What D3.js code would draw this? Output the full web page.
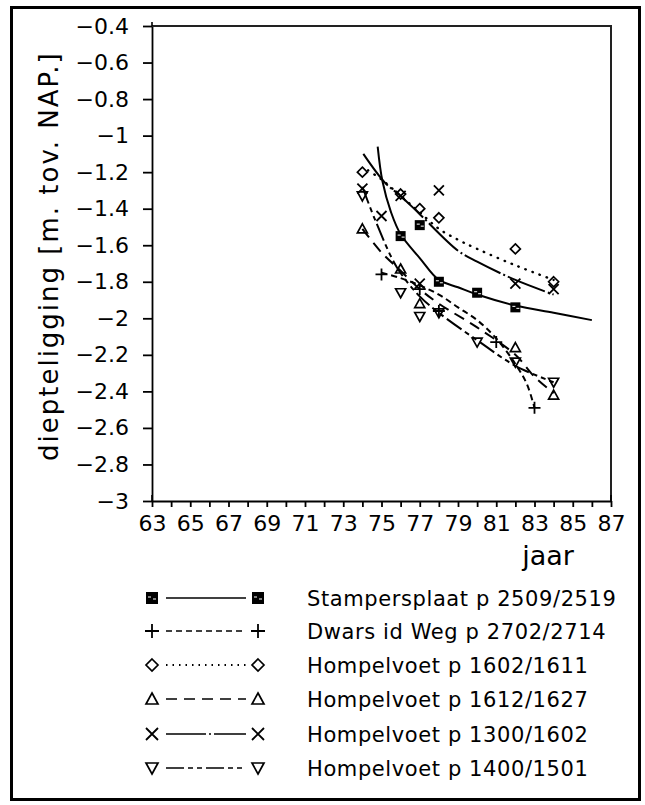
<!DOCTYPE html>
<html><head><meta charset="utf-8">
<script src="https://cdn.jsdelivr.net/npm/d3@7"></script>
<style>body{margin:0;background:#fff}svg{display:block}</style>
</head><body><svg id="c" width="645" height="805"></svg>
<script>
// ---------------- data ----------------
const years = d3.range(63, 88);
const yTickValues = [-0.4,-0.6,-0.8,-1,-1.2,-1.4,-1.6,-1.8,-2,-2.2,-2.4,-2.6,-2.8,-3];
const yTickLabels = ["−0.4","−0.6","−0.8","−1","−1.2","−1.4","−1.6","−1.8","−2","−2.2","−2.4","−2.6","−2.8","−3"];
const seriesNames = ["Stampersplaat p 2509/2519","Dwars id Weg p 2702/2714","Hompelvoet p 1602/1611",
                     "Hompelvoet p 1612/1627","Hompelvoet p 1300/1602","Hompelvoet p 1400/1501"];
const seriesSymbols = ["square","plus","diamond","triangle","cross","triangleDown"];

// measured points
const stampersPoints = [[76,-1.55],[77,-1.49],[78,-1.80],[80,-1.86],[82,-1.94]];
const dwarsPoints    = [[75,-1.76],[77,-1.84],[78,-1.96],[81,-2.13],[83,-2.49]];
const hv1602Points   = [[74,-1.20],[76,-1.32],[77,-1.40],[78,-1.45],[82,-1.62],[84,-1.80]];
const hv1612Points   = [[74,-1.51],[76,-1.73],[77,-1.92],[82,-2.16],[84,-2.42]];
const hv1300Points   = [[74,-1.29],[75,-1.44],[76,-1.33],[78,-1.30],[77,-1.81],[82,-1.81],[84,-1.84]];
const hv1400Points   = [[74,-1.33],[76,-1.86],[77,-1.99],[78,-1.97],[80,-2.13],[82,-2.24],[84,-2.35]];

// fitted curves
const stampersCurve = [[74.8,-1.06],[75.05,-1.25],[75.5,-1.42],[76,-1.54],[77,-1.67],[78,-1.79],[79,-1.83],[80,-1.87],[82,-1.93],[84,-1.97],[86,-2.01]];
const dwarsCurve    = [[75,-1.75],[76,-1.78],[77,-1.82],[78,-1.87],[79,-1.94],[80,-2.01],[81,-2.11],[82,-2.25],[82.6,-2.36],[83,-2.49]];
const hv1602Curve   = [[74.3,-1.19],[75,-1.24],[76,-1.33],[77,-1.42],[78,-1.51],[79,-1.57],[80,-1.62],[82,-1.71],[84,-1.79]];
const hv1612Curve   = [[74,-1.51],[75,-1.64],[76,-1.74],[77,-1.84],[78,-1.92],[80,-2.05],[82,-2.2],[83,-2.32],[84,-2.41]];
const hv1300Curve   = [[74.05,-1.10],[75.2,-1.26],[76,-1.33],[77,-1.43],[79,-1.63],[80,-1.69],[82,-1.79],[84,-1.87]];
const hv1400Curve   = [[74,-1.28],[74.7,-1.47],[75.8,-1.72],[77,-1.88],[78,-1.97],[80,-2.12],[82,-2.26],[84,-2.35]];

// ---------------- drawing ----------------
const svg = d3.select("#c");
const FONT = "DejaVu Sans, sans-serif";
svg.append("rect").attr("width",645).attr("height",805).attr("fill","#fff");
const defs = svg.append("defs");
defs.append("clipPath").attr("id","frameClip").append("rect")
  .attr("x",12).attr("y",8).attr("width",626).attr("height",791);

const g = svg.append("g").attr("clip-path","url(#frameClip)");

const x = d3.scaleLinear().domain([63,87]).range([152,611]);
const y = d3.scaleLinear().domain([-0.4,-3]).range([26,501]);

// axes
const xAxis = d3.axisBottom(x).tickValues(years).tickSize(6).tickSizeOuter(0)
  .tickPadding(8).tickFormat(d => (d % 2 === 1) ? String(d) : "");
const gx = g.append("g").attr("transform","translate(0,501)").call(xAxis);
gx.selectAll("text").attr("font-family",FONT).attr("font-size",22).attr("fill","#000");
gx.selectAll("line,path").attr("stroke","#000").attr("stroke-width",1.8);

const yAxis = d3.axisLeft(y).tickValues(yTickValues).tickSize(9).tickSizeOuter(0)
  .tickPadding(14).tickFormat((d,i) => yTickLabels[i]);
const gy = g.append("g").attr("transform","translate(152,0)").call(yAxis);
gy.selectAll("text").attr("font-family",FONT).attr("font-size",22).attr("fill","#000");
gy.selectAll("line,path").attr("stroke","#000").attr("stroke-width",1.8);

// plot frame top & right
g.append("path").attr("d",`M${x(63)},${y(-0.4)}H${x(87)}V${y(-3)}`)
  .attr("fill","none").attr("stroke","#222").attr("stroke-width",2);
g.append("path").attr("d",`M${x(63)},${y(-0.4)-4}V${y(-0.4)} M${x(63)},${y(-3)}V${y(-3)-6} M${x(87)},${y(-3)}V${y(-3)-6}`)
  .attr("stroke","#000").attr("stroke-width",1.6);

// axis titles
g.append("text").attr("transform",`translate(58,${y(-1.66)}) rotate(-90)`)
  .attr("text-anchor","middle").attr("font-family",FONT).attr("font-size",26)
  .attr("letter-spacing",2).text("diepteligging [m. tov. NAP.]");
g.append("text").attr("x",548).attr("y",565).attr("text-anchor","middle")
  .attr("font-family",FONT).attr("font-size",27).text("jaar");

// symbols
function drawSymbol(sel, type, cx, cy, s) {
  s = s || 5;
  if (type === "square") {
    sel.append("rect").attr("x",cx-s).attr("y",cy-s).attr("width",2*s).attr("height",2*s).attr("fill","#000");
    sel.append("path").attr("d",`M${cx-s+2},${cy-1}h3 M${cx+1},${cy+1}h3`).attr("stroke","#fff").attr("stroke-width",1);
  } else if (type === "plus") {
    sel.append("path").attr("d",`M${cx-s-1},${cy}H${cx+s+1}M${cx},${cy-s-1}V${cy+s+1}`)
      .attr("stroke","#000").attr("stroke-width",1.8);
  } else if (type === "diamond") {
    sel.append("path").attr("d",`M${cx},${cy-s}L${cx+s},${cy}L${cx},${cy+s}L${cx-s},${cy}Z`)
      .attr("fill","none").attr("stroke","#000").attr("stroke-width",1.7);
  } else if (type === "triangle") {
    sel.append("path").attr("d",`M${cx},${cy-s}L${cx+s},${cy+s-1}L${cx-s},${cy+s-1}Z`)
      .attr("fill","none").attr("stroke","#000").attr("stroke-width",1.7);
  } else if (type === "triangleDown") {
    sel.append("path").attr("d",`M${cx},${cy+s}L${cx+s},${cy-s+1}L${cx-s},${cy-s+1}Z`)
      .attr("fill","none").attr("stroke","#000").attr("stroke-width",1.7);
  } else if (type === "cross") {
    sel.append("path").attr("d",`M${cx-s},${cy-s}L${cx+s},${cy+s}M${cx+s},${cy-s}L${cx-s},${cy+s}`)
      .attr("stroke","#000").attr("stroke-width",1.8);
  }
}

const dashes = ["none","6,4","2,6","11,7","40,3,2,3","18,4,5,4,5,4"];
const curves = [stampersCurve, dwarsCurve, hv1602Curve, hv1612Curve, hv1300Curve, hv1400Curve];
const pointSets = [stampersPoints, dwarsPoints, hv1602Points, hv1612Points, hv1300Points, hv1400Points];

const line = d3.line().x(d => x(d[0])).y(d => y(d[1])).curve(d3.curveCatmullRom.alpha(0.5));
const plot = g.append("g");
curves.forEach((c,i) => {
  plot.append("path").attr("d", line(c)).attr("fill","none").attr("stroke","#000")
    .attr("stroke-width", i === 2 ? 2.4 : 2)
    .attr("stroke-linecap", i === 2 ? "round" : "butt")
    .attr("stroke-dasharray", i === 2 ? "0.5,7" : dashes[i]);
});
pointSets.forEach((pts,i) => {
  pts.forEach(p => drawSymbol(plot, seriesSymbols[i], x(p[0]), y(p[1])));
});

// legend
const legendY = [598, 631, 665, 699, 734, 768];
const lg = g.append("g");
seriesNames.forEach((name,i) => {
  const ly = legendY[i];
  drawSymbol(lg, seriesSymbols[i], 152, ly, 6);
  lg.append("line").attr("x1",166).attr("x2",246).attr("y1",ly).attr("y2",ly)
    .attr("stroke","#000").attr("stroke-width", i === 2 ? 1.8 : 1.5)
    .attr("stroke-dasharray", i === 2 ? "1.5,5" : dashes[i]);
  drawSymbol(lg, seriesSymbols[i], 258, ly, 6);
  lg.append("text").attr("x",307).attr("y",ly+8).attr("font-family",FONT)
    .attr("font-size",21).attr("letter-spacing",0.6).text(name);
});

// outer frame
svg.append("rect").attr("x",11.5).attr("y",7.5).attr("width",628).attr("height",792)
  .attr("fill","none").attr("stroke","#000").attr("stroke-width",3);
</script></body></html>
